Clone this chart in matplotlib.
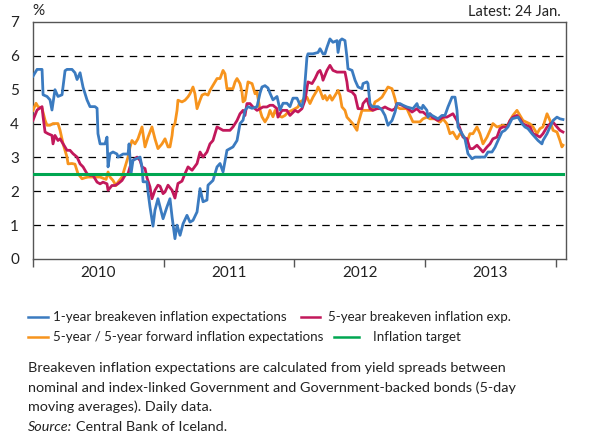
import matplotlib
matplotlib.use("Agg")
import matplotlib.pyplot as plt
from matplotlib.lines import Line2D

plt.rcParams['font.family'] = ['Lato', 'DejaVu Sans']

# decimal years, daily data
one_year_t = [2010.000, 2010.031, 2010.069, 2010.077, 2010.107, 2010.130, 2010.145, 2010.168, 2010.191, 2010.222,
              2010.245, 2010.260, 2010.298, 2010.321, 2010.337, 2010.360, 2010.383, 2010.413, 2010.436, 2010.474,
              2010.490, 2010.497, 2010.513, 2010.551, 2010.566, 2010.574, 2010.589, 2010.612, 2010.643, 2010.650,
              2010.689, 2010.727, 2010.735, 2010.750, 2010.765, 2010.796, 2010.819, 2010.834, 2010.842, 2010.872,
              2010.880, 2010.895, 2010.918, 2010.933, 2010.956, 2010.972, 2010.995, 2011.025, 2011.048, 2011.064,
              2011.086, 2011.102, 2011.125, 2011.148, 2011.178, 2011.201, 2011.224, 2011.255, 2011.278, 2011.301,
              2011.331, 2011.339, 2011.377, 2011.408, 2011.431, 2011.454, 2011.484, 2011.530, 2011.561, 2011.584,
              2011.607, 2011.622, 2011.645, 2011.676, 2011.714, 2011.737, 2011.752, 2011.775, 2011.798, 2011.813,
              2011.836, 2011.867, 2011.890, 2011.913, 2011.943, 2011.966, 2011.989, 2012.020, 2012.043, 2012.058,
              2012.073, 2012.096, 2012.104, 2012.142, 2012.181, 2012.196, 2012.219, 2012.234, 2012.249, 2012.272,
              2012.295, 2012.326, 2012.334, 2012.349, 2012.364, 2012.387, 2012.402, 2012.410, 2012.441, 2012.464,
              2012.487, 2012.517, 2012.525, 2012.555, 2012.563, 2012.578, 2012.594, 2012.640, 2012.670, 2012.693,
              2012.716, 2012.747, 2012.770, 2012.785, 2012.808, 2012.831, 2012.861, 2012.907, 2012.938, 2012.946,
              2012.976, 2012.984, 2013.014, 2013.022, 2013.037, 2013.053, 2013.076, 2013.099, 2013.129, 2013.152,
              2013.175, 2013.206, 2013.229, 2013.244, 2013.252, 2013.282, 2013.305, 2013.328, 2013.359, 2013.382,
              2013.458, 2013.481, 2013.512, 2013.535, 2013.558, 2013.588, 2013.611, 2013.634, 2013.665, 2013.711,
              2013.741, 2013.764, 2013.787, 2013.818, 2013.841, 2013.864, 2013.894, 2013.902, 2013.933, 2013.956,
              2013.979, 2014.009, 2014.032, 2014.055]
one_year = [5.40, 5.60, 5.60, 4.85, 4.80, 4.70, 4.40, 5.00, 4.80, 4.85,
            5.56, 5.60, 5.60, 5.50, 5.30, 5.50, 5.07, 4.70, 4.50, 4.50,
            4.45, 3.70, 3.40, 3.40, 3.60, 2.72, 3.11, 3.16, 3.10, 3.01,
            3.10, 3.10, 3.40, 2.52, 2.92, 2.97, 3.01, 2.72, 2.28, 2.28,
            1.98, 1.54, 0.97, 1.44, 1.78, 1.54, 1.19, 1.54, 1.78, 1.24,
            0.60, 1.00, 0.70, 1.04, 1.29, 1.09, 1.14, 1.39, 2.08, 1.69,
            1.74, 2.18, 2.32, 2.72, 2.82, 2.57, 3.21, 3.31, 3.50, 4.00,
            4.10, 4.39, 4.50, 4.45, 4.50, 4.90, 5.08, 5.12, 5.05, 4.90,
            4.70, 4.80, 4.40, 4.60, 4.60, 4.50, 4.75, 4.75, 4.55, 4.50,
            4.80, 5.96, 6.06, 6.06, 6.10, 6.21, 6.06, 6.06, 6.25, 6.50,
            6.40, 6.45, 6.10, 6.45, 6.50, 6.45, 5.96, 5.62, 5.57, 5.28,
            5.08, 5.03, 5.18, 5.23, 5.18, 4.59, 4.50, 4.50, 4.40, 4.24,
            3.95, 4.09, 4.34, 4.59, 4.59, 4.54, 4.49, 4.44, 4.59, 4.49,
            4.44, 4.54, 4.39, 4.19, 4.29, 4.24, 4.19, 4.14, 4.24, 4.24,
            4.49, 4.78, 4.78, 4.39, 3.90, 3.70, 3.55, 3.11, 2.96, 3.01,
            3.01, 3.16, 3.16, 3.30, 3.50, 3.75, 3.80, 3.90, 4.14, 4.19,
            4.00, 3.90, 3.85, 3.70, 3.60, 3.50, 3.40, 3.50, 3.70, 3.90,
            4.09, 4.19, 4.14, 4.12]

five_year_t = [2010.000, 2010.031, 2010.069, 2010.077, 2010.092, 2010.115, 2010.145, 2010.153, 2010.168, 2010.191,
               2010.207, 2010.230, 2010.260, 2010.283, 2010.306, 2010.337, 2010.360, 2010.383, 2010.413, 2010.436,
               2010.459, 2010.490, 2010.513, 2010.536, 2010.566, 2010.574, 2010.604, 2010.627, 2010.650, 2010.681,
               2010.704, 2010.727, 2010.742, 2010.765, 2010.796, 2010.819, 2010.834, 2010.857, 2010.872, 2010.895,
               2010.910, 2010.933, 2010.956, 2010.972, 2010.995, 2011.010, 2011.033, 2011.064, 2011.086, 2011.109,
               2011.140, 2011.163, 2011.186, 2011.217, 2011.255, 2011.278, 2011.301, 2011.331, 2011.354, 2011.377,
               2011.408, 2011.431, 2011.454, 2011.507, 2011.530, 2011.561, 2011.584, 2011.607, 2011.622, 2011.637,
               2011.660, 2011.683, 2011.714, 2011.737, 2011.760, 2011.790, 2011.813, 2011.836, 2011.867, 2011.874,
               2011.905, 2011.943, 2011.966, 2012.005, 2012.028, 2012.058, 2012.081, 2012.104, 2012.135, 2012.158,
               2012.181, 2012.196, 2012.211, 2012.219, 2012.249, 2012.272, 2012.295, 2012.326, 2012.387, 2012.402,
               2012.410, 2012.441, 2012.464, 2012.487, 2012.517, 2012.525, 2012.555, 2012.578, 2012.601, 2012.632,
               2012.670, 2012.693, 2012.716, 2012.747, 2012.770, 2012.785, 2012.823, 2012.846, 2012.869, 2012.900,
               2012.938, 2012.961, 2012.984, 2013.014, 2013.037, 2013.053, 2013.076, 2013.099, 2013.137, 2013.167,
               2013.190, 2013.213, 2013.244, 2013.267, 2013.290, 2013.320, 2013.343, 2013.366, 2013.397, 2013.420,
               2013.443, 2013.474, 2013.497, 2013.519, 2013.550, 2013.573, 2013.596, 2013.627, 2013.650, 2013.672,
               2013.703, 2013.726, 2013.749, 2013.780, 2013.803, 2013.826, 2013.856, 2013.879, 2013.902, 2013.933,
               2013.956, 2013.979, 2014.009, 2014.032, 2014.055]
five_year = [4.10, 4.40, 4.50, 4.20, 3.75, 3.70, 3.65, 3.40, 3.65, 3.50,
             3.55, 3.40, 3.21, 3.21, 3.11, 3.01, 2.81, 2.72, 2.52, 2.47,
             2.47, 2.27, 2.22, 2.27, 2.22, 2.03, 2.17, 2.17, 2.22, 2.32,
             2.47, 2.52, 2.72, 2.91, 3.01, 2.91, 2.72, 2.67, 2.40, 2.13,
             1.78, 2.03, 2.18, 2.15, 1.93, 1.98, 2.18, 2.03, 1.80, 2.23,
             2.30, 2.52, 2.72, 2.62, 2.82, 3.16, 3.01, 3.16, 3.40, 3.50,
             3.90, 3.85, 3.80, 3.80, 3.90, 4.09, 4.29, 4.39, 4.24, 4.59,
             4.59, 4.49, 4.39, 4.44, 4.49, 4.49, 4.54, 4.54, 4.44, 4.19,
             4.39, 4.39, 4.24, 4.39, 4.34, 4.44, 4.69, 5.23, 5.18, 5.33,
             5.52, 5.57, 5.42, 5.28, 5.57, 5.72, 5.57, 5.52, 5.52, 5.23,
             4.98, 4.93, 4.83, 4.44, 4.44, 4.59, 4.73, 4.44, 4.39, 4.44,
             4.44, 4.49, 4.44, 4.39, 4.44, 4.59, 4.54, 4.49, 4.44, 4.34,
             4.44, 4.34, 4.34, 4.24, 4.29, 4.19, 4.14, 4.09, 4.19, 4.19,
             4.24, 4.29, 4.09, 3.85, 3.60, 3.55, 3.26, 3.26, 3.36, 3.26,
             3.16, 3.31, 3.40, 3.55, 3.60, 3.85, 3.90, 3.90, 4.09, 4.19,
             4.24, 4.14, 3.99, 3.94, 3.90, 3.70, 3.65, 3.60, 3.70, 3.90,
             3.99, 4.04, 3.90, 3.80, 3.75]

forward_t = [2010.000, 2010.023, 2010.038, 2010.069, 2010.092, 2010.107, 2010.130, 2010.153, 2010.191, 2010.207,
             2010.230, 2010.260, 2010.268, 2010.298, 2010.321, 2010.344, 2010.375, 2010.398, 2010.421, 2010.513,
             2010.559, 2010.574, 2010.589, 2010.612, 2010.635, 2010.650, 2010.681, 2010.704, 2010.727, 2010.742,
             2010.757, 2010.780, 2010.803, 2010.834, 2010.857, 2010.880, 2010.910, 2010.933, 2010.956, 2010.987,
             2011.010, 2011.033, 2011.048, 2011.064, 2011.071, 2011.086, 2011.102, 2011.109, 2011.140, 2011.163,
             2011.186, 2011.201, 2011.224, 2011.239, 2011.255, 2011.278, 2011.293, 2011.316, 2011.339, 2011.354,
             2011.377, 2011.408, 2011.431, 2011.454, 2011.469, 2011.484, 2011.530, 2011.546, 2011.561, 2011.584,
             2011.599, 2011.607, 2011.622, 2011.645, 2011.676, 2011.699, 2011.714, 2011.737, 2011.752, 2011.775,
             2011.798, 2011.813, 2011.836, 2011.852, 2011.874, 2011.905, 2011.928, 2011.951, 2011.982, 2012.005,
             2012.028, 2012.043, 2012.066, 2012.096, 2012.119, 2012.142, 2012.173, 2012.181, 2012.196, 2012.219,
             2012.234, 2012.249, 2012.272, 2012.288, 2012.311, 2012.334, 2012.349, 2012.364, 2012.387, 2012.402,
             2012.425, 2012.448, 2012.479, 2012.487, 2012.502, 2012.517, 2012.594, 2012.617, 2012.640, 2012.670,
             2012.693, 2012.716, 2012.747, 2012.770, 2012.785, 2012.808, 2012.861, 2012.884, 2012.907, 2012.961,
             2012.984, 2013.014, 2013.037, 2013.076, 2013.114, 2013.137, 2013.167, 2013.190, 2013.213, 2013.244,
             2013.267, 2013.290, 2013.320, 2013.343, 2013.366, 2013.397, 2013.420, 2013.443, 2013.474, 2013.497,
             2013.519, 2013.550, 2013.596, 2013.627, 2013.650, 2013.672, 2013.703, 2013.726, 2013.749, 2013.803,
             2013.826, 2013.856, 2013.879, 2013.902, 2013.933, 2013.956, 2013.979, 2014.009, 2014.032, 2014.047,
             2014.055]
forward = [4.39, 4.60, 4.50, 4.45, 4.10, 3.95, 3.95, 4.00, 4.00, 3.80,
           3.40, 3.01, 2.81, 2.82, 2.80, 2.52, 2.37, 2.40, 2.42, 2.42,
           2.35, 2.57, 2.42, 2.32, 2.17, 2.27, 2.42, 2.72, 3.01, 3.30,
           3.50, 3.40, 3.55, 3.90, 3.31, 3.60, 3.90, 3.55, 3.26, 3.40,
           3.55, 3.31, 3.31, 3.65, 3.90, 4.00, 4.39, 4.69, 4.64, 4.69,
           4.79, 4.88, 5.08, 4.88, 4.44, 4.69, 4.84, 4.88, 4.84, 4.98,
           5.13, 5.33, 5.33, 5.57, 5.47, 5.03, 5.03, 5.23, 5.33, 5.18,
           4.93, 4.64, 4.69, 5.23, 5.18, 4.88, 4.93, 4.39, 4.20, 4.05,
           4.20, 4.39, 4.20, 4.39, 4.24, 4.19, 4.24, 4.34, 4.39, 4.44,
           4.49, 4.64, 4.69, 4.78, 4.59, 4.78, 4.98, 5.08, 4.98, 4.73,
           4.83, 4.69, 4.83, 4.69, 4.83, 4.98, 4.83, 4.49, 4.39, 4.19,
           4.09, 3.99, 3.80, 3.99, 4.19, 4.39, 4.39, 4.64, 4.69, 4.78,
           4.93, 5.08, 5.03, 4.73, 4.49, 4.44, 4.44, 4.24, 4.05, 4.05,
           4.14, 4.19, 4.14, 4.14, 4.04, 4.14, 3.99, 3.70, 3.75, 3.55,
           3.70, 3.65, 3.45, 3.70, 3.70, 3.90, 3.70, 3.40, 3.60, 3.80,
           4.00, 3.90, 3.95, 3.90, 4.09, 4.24, 4.39, 4.24, 4.09, 3.99,
           3.90, 3.70, 3.85, 3.90, 4.29, 4.09, 3.80, 3.75, 3.50, 3.31,
           3.36]

target = 2.5
years = [2010, 2011, 2012, 2013]
x_start, x_end = 2010.0, 2014.077

labels = ['1-year breakeven inflation expectations', '5-year breakeven inflation exp.',
          '5-year / 5-year forward inflation expectations', 'Inflation target']
colors = ['#3b7bc0', '#c2185b', '#f7941d', '#00a651']

fig = plt.figure(figsize=(5.95, 4.38), dpi=100)
ax = fig.add_axes([0.0555, 0.4087, 0.8955, 0.5411])

ax.plot(forward_t, forward, color=colors[2], lw=2.0, zorder=3)
ax.plot(five_year_t, five_year, color=colors[1], lw=2.0, zorder=4)
ax.plot(one_year_t, one_year, color=colors[0], lw=2.0, zorder=5)
ax.plot([x_start, one_year_t[-1]], [target, target], color=colors[3], lw=2.2, zorder=6)

ax.set_xlim(x_start, x_end)
ax.set_ylim(0, 7)
ax.set_yticks(range(0, 8))
for v in range(1, 7):
    ax.axhline(v, color='black', lw=0.9, dashes=(6, 5), zorder=1)

ax.set_xticks(years + [2014])
ax.set_xticklabels([])
ax.set_xticks([y + 0.5 for y in years], minor=True)
ax.set_xticklabels([str(y) for y in years], minor=True)
ax.tick_params(axis='x', which='major', direction='out', length=6, color='#555555', width=1)
ax.tick_params(axis='x', which='minor', length=0, labelsize=11, pad=5, labelcolor='#222222')
ax.tick_params(axis='y', length=0, labelsize=11, pad=10, labelcolor='#222222')
for s in ax.spines.values():
    s.set_color('#555555')
    s.set_linewidth(1)

fig.text(0.064, 0.975, '%', fontsize=11, color='#222222', ha='center', va='center')
fig.text(0.942, 0.972, 'Latest: 24 Jan.', fontsize=10.5, color='#222222', ha='right', va='center')

# legend drawn by hand to match the two-row layout
leg = [(0.047, 0.081, 0.089, 0.276, 0), (0.506, 0.538, 0.551, 0.276, 1),
       (0.047, 0.081, 0.089, 0.231, 2), (0.562, 0.604, 0.627, 0.231, 3)]
for x0, x1, xt, yy, i in leg:
    fig.add_artist(Line2D([x0, x1], [yy, yy], color=colors[i], lw=1.8, transform=fig.transFigure))
    fig.text(xt, yy, labels[i], fontsize=9.6, color='#222222', va='center')

notes = ['Breakeven inflation expectations are calculated from yield spreads between',
         'nominal and index-linked Government and Government-backed bonds (5-day',
         'moving averages). Daily data.']
for i, line in enumerate(notes):
    fig.text(0.047, 0.160 - i * 0.0445, line, fontsize=10.4, color='#222222', va='center')
fig.text(0.047, 0.025, 'Source:', fontsize=10.4, color='#222222', va='center', style='italic')
fig.text(0.127, 0.025, 'Central Bank of Iceland.', fontsize=10.4, color='#222222', va='center')

fig.savefig('out.png', dpi=100)
